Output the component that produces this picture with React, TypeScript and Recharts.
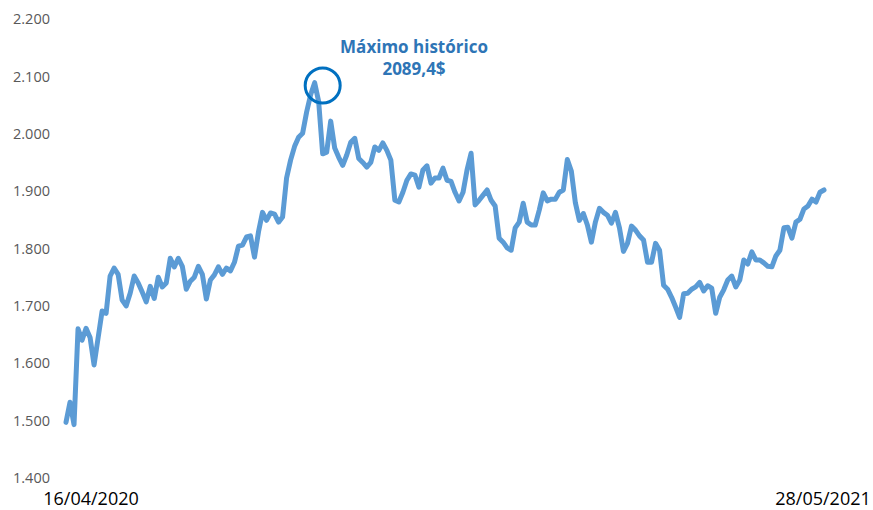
import React from 'react';
import { LineChart, Line, XAxis, YAxis, ReferenceDot } from 'recharts';

// Gold price (USD/oz), evenly spaced samples
const prices: number[] = [
  1497, 1532, 1493, 1660, 1640, 1661, 1645, 1597, 1644, 1691,
  1687, 1752, 1766, 1755, 1710, 1700, 1722, 1752, 1740, 1724,
  1707, 1734, 1713, 1750, 1733, 1740, 1783, 1768, 1783, 1769,
  1729, 1743, 1750, 1769, 1755, 1712, 1745, 1754, 1768, 1755,
  1766, 1761, 1776, 1804, 1806, 1820, 1822, 1785, 1829, 1863,
  1849, 1862, 1860, 1846, 1855, 1923, 1954, 1978, 1994, 2001,
  2038, 2068, 2089, 2056, 1965, 1968, 2022, 1975, 1959, 1945,
  1963, 1985, 1992, 1957, 1950, 1942, 1950, 1977, 1971, 1984,
  1971, 1954, 1884, 1881, 1898, 1919, 1930, 1928, 1907, 1937,
  1944, 1914, 1923, 1923, 1940, 1919, 1917, 1898, 1883, 1898,
  1937, 1966, 1876, 1884, 1893, 1902, 1884, 1874, 1818, 1811,
  1801, 1797, 1836, 1846, 1879, 1846, 1841, 1841, 1867, 1897,
  1883, 1886, 1886, 1898, 1902, 1955, 1935, 1880, 1849, 1861,
  1841, 1811, 1846, 1870, 1863, 1858, 1844, 1863, 1836, 1795,
  1809, 1839, 1832, 1822, 1815, 1776, 1776, 1809, 1797, 1736,
  1729, 1715, 1698, 1680, 1721, 1722, 1729, 1733, 1741, 1726,
  1735, 1731, 1687, 1715, 1728, 1745, 1752, 1733, 1745, 1780,
  1773, 1794, 1780, 1780, 1775, 1769, 1768, 1787, 1797, 1836,
  1837, 1818, 1846, 1851, 1869, 1874, 1886, 1881, 1898, 1902,
];

const yTicks: number[] = [1400, 1500, 1600, 1700, 1800, 1900, 2000, 2100, 2200];
const xTickLabels: string[] = ['16/04/2020', '28/05/2021'];
const annotationLines: string[] = ['Máximo histórico', '2089,4$'];
const circleIndex = 64;
const circleValue = 2084;

const data = prices.map((price, idx) => ({ idx, price }));
const lastIdx = prices.length - 1;

const formatY = (v: number) =>
  `${Math.floor(v / 1000)}.${String(v % 1000).padStart(3, '0')}`;

const DateTick = (props: any) => {
  const { x, y, payload } = props;
  const first = payload.value === 0;
  const label = first ? xTickLabels[0] : xTickLabels[1];
  return (
    <text
      x={x + (first ? 25 : -1)}
      y={y + 27}
      textAnchor="middle"
      fontSize={18}
      fontFamily="'Open Sans', sans-serif"
      fill="#000000"
    >
      {label}
    </text>
  );
};

export default function App() {
  return (
    <div style={{ position: 'relative', width: 873, height: 510, background: '#fff' }}>
      <style>{'body{margin:0;}'}</style>
      <LineChart
        width={873}
        height={510}
        data={data}
        margin={{ top: 19, right: 49, left: 0, bottom: 0 }}
      >
        <XAxis
          dataKey="idx"
          type="category"
          ticks={[0, lastIdx]}
          interval={0}
          axisLine={false}
          tickLine={false}
          tickSize={0}
          tickMargin={0}
          height={32}
          tick={<DateTick />}
        />
        <YAxis
          type="number"
          domain={[1400, 2200]}
          ticks={yTicks}
          interval={0}
          axisLine={false}
          tickLine={false}
          tickSize={0}
          tickMargin={16}
          width={66}
          tickFormatter={formatY}
          tick={{ fill: '#595959', fontSize: 14.5, fontFamily: "'Open Sans', sans-serif" }}
        />
        <Line
          type="linear"
          dataKey="price"
          stroke="#5B9BD5"
          strokeWidth={5}
          strokeLinecap="round"
          strokeLinejoin="round"
          dot={false}
          activeDot={false}
          isAnimationActive={false}
        />
        <ReferenceDot
          x={circleIndex}
          y={circleValue}
          r={17.5}
          fill="none"
          stroke="#0070C0"
          strokeWidth={3}
        />
      </LineChart>
      <svg
        width={873}
        height={510}
        style={{ position: 'absolute', left: 0, top: 0, pointerEvents: 'none' }}
      >
        {annotationLines.map((t, i) => (
          <text
            key={i}
            x={414}
            y={53 + i * 22}
            textAnchor="middle"
            fontSize={17}
            fontWeight={700}
            fontFamily="'Open Sans', sans-serif"
            fill="#2E75B6"
          >
            {t}
          </text>
        ))}
      </svg>
    </div>
  );
}
